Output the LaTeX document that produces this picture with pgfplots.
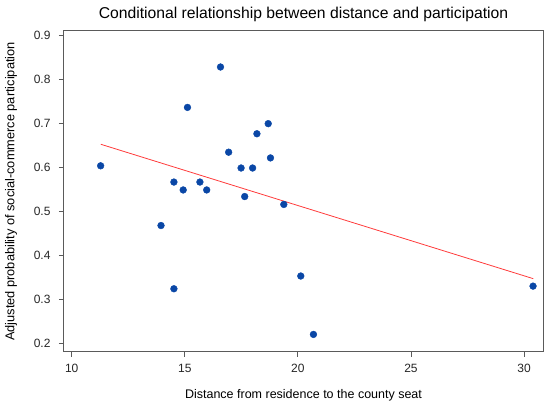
\documentclass[border=0pt]{standalone}
\usepackage{pgfplots}
\pgfplotsset{compat=1.18}
\usepackage{fontspec}
\setmainfont{Liberation Sans}
\definecolor{dotblue}{HTML}{0A47A6}
\definecolor{fitred}{HTML}{FF3B3B}
\definecolor{axgray}{HTML}{5A5A5A}
\begin{document}
\begin{tikzpicture}[x=1pt,y=1pt]
\path[use as bounding box] (-64,-54) rectangle (486,352);
\begin{axis}[
  at={(0,0)}, anchor=south west,
  scale only axis, width=479pt, height=321pt,
  xmin=9.66, xmax=30.84, ymin=0.180, ymax=0.911,
  xtick={10,15,20,25,30}, ytick={0.2,0.3,0.4,0.5,0.6,0.7,0.8,0.9},
  /pgf/number format/assume math mode=true,
  tick label style={font=\fontsize{12}{14}\selectfont, color=black!85},
  xticklabel style={yshift=-4pt},
  yticklabel style={xshift=-5pt, /pgf/number format/.cd, fixed, fixed zerofill, precision=1},
  axis line style={axgray, line width=1pt},
  tick style={axgray, line width=0.8pt},
  tick align=outside, major tick length=5pt,
  xtick pos=bottom, ytick pos=left,
  title={Conditional relationship between distance and participation},
  title style={font=\fontsize{15.7}{18}\selectfont, yshift=0pt},
  xlabel={Distance from residence to the county seat},
  ylabel={Adjusted probability of social-commerce participation},
  xlabel style={font=\fontsize{12.5}{14}\selectfont, yshift=-10pt},
  ylabel style={font=\fontsize{12.8}{14}\selectfont, yshift=10pt},
]
\addplot[fitred, line width=0.8pt] coordinates {(11.29,0.653) (30.41,0.347)};
\addplot[only marks, mark=*, mark size=3.4pt, mark options={fill=dotblue, draw=dotblue}] coordinates {
(11.28,0.604) (16.58,0.829) (15.12,0.737) (18.69,0.700) (18.19,0.677)
(16.94,0.635) (18.79,0.622) (17.49,0.599) (18.00,0.599) (14.52,0.567)
(15.67,0.567) (14.93,0.549) (15.97,0.549) (17.65,0.534) (19.38,0.516)
(13.95,0.468) (14.52,0.324) (20.13,0.353) (20.69,0.220) (30.40,0.330)
};
\end{axis}
\end{tikzpicture}
\end{document}
